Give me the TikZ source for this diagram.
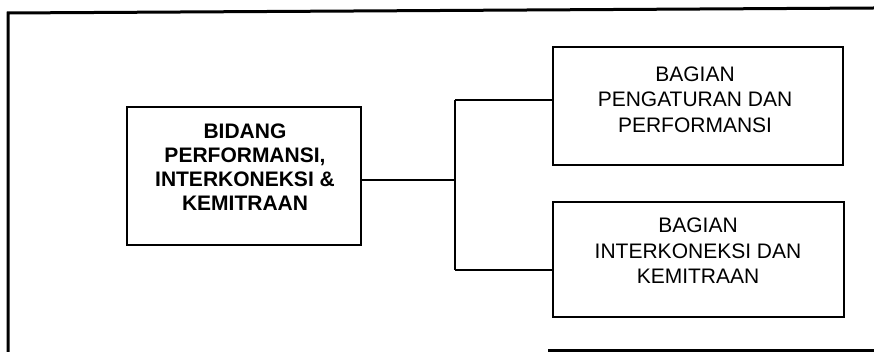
\documentclass[tikz,border=0pt]{standalone}
\usepackage{fontspec}
\setmainfont{Liberation Sans}
\begin{document}
\begin{tikzpicture}[x=1pt,y=-1pt,
  box/.style={draw, line width=2.8pt, inner sep=0pt},
  frameline/.style={line width=3pt},
  conn/.style={line width=2.6pt},
  lbl/.style={align=center, inner sep=0pt, font=\fontsize{21}{24}\selectfont}]
\useasboundingbox (0,0) rectangle (874,352);
% outer frame
\draw[frameline] (8,352) -- (8,13) -- (874,8);
\draw[frameline] (548,350) -- (874,350);
% boxes
\node[box, minimum width=234pt, minimum height=138pt] (L) at (244,176) {};
\node[box, minimum width=290pt, minimum height=118pt] (R1) at (698,106) {};
\node[box, minimum width=291pt, minimum height=115pt] (R2) at (698.5,259.5) {};
% texts
\node[lbl, font=\bfseries\fontsize{21}{24}\selectfont] (Lt) at (245,167.5) {BIDANG\\PERFORMANSI,\\INTERKONEKSI \&\\KEMITRAAN};
\node[lbl, font=\fontsize{21}{25.5}\selectfont] (R1t) at (695,99.5) {BAGIAN\\PENGATURAN DAN\\PERFORMANSI};
\node[lbl, font=\fontsize{21}{25.5}\selectfont] (R2t) at (698,251) {BAGIAN\\INTERKONEKSI DAN\\KEMITRAAN};
% connectors
\coordinate (j) at (455,180);
\coordinate (jt) at (455,100);
\coordinate (jb) at (455,270);
\draw[conn] (L.east |- j) -- (j);
\draw[conn] (jt) -- (jb);
\draw[conn] (jt) -- (R1.west |- jt);
\draw[conn] (jb) -- (R2.west |- jb);
\end{tikzpicture}
\end{document}
